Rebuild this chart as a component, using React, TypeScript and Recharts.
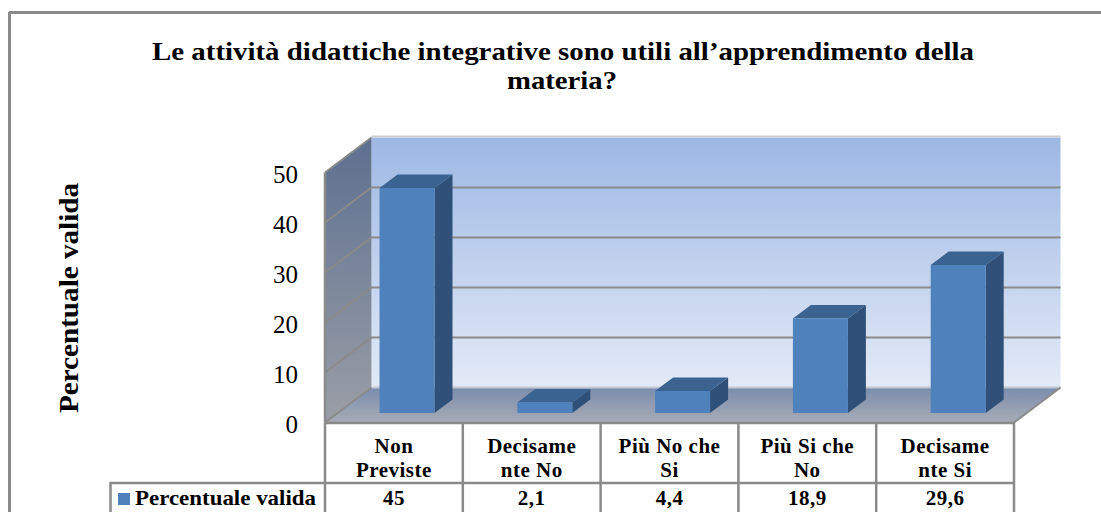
import React from 'react';
import { BarChart, Bar, XAxis, YAxis, CartesianGrid, Customized } from 'recharts';

const categories = ['Non Previste', 'Decisamente No', 'Più No che Si', 'Più Si che No', 'Decisamente Si'];
const categoryLines = [['Non', 'Previste'], ['Decisame', 'nte No'], ['Più No che', 'Si'], ['Più Si che', 'No'], ['Decisame', 'nte Si']];
const values = [45, 2.1, 4.4, 18.9, 29.6];
const yTicks = [0, 10, 20, 30, 40, 50];
const seriesName = 'Percentuale valida';
const titleLines = ['Le attività didattiche integrative sono utili all\u2019apprendimento della', 'materia?'];

const data = categories.map((name, i) => ({ name, value: values[i] }));

const W = 1101;
const H = 512;
const LEFT = 325;
const RIGHT = 1014;
const TOP = 172.5;
const BOTTOM = 422.5;
const DEPTH_X = 46.5;
const DEPTH_Y = 35;
const CELL = (RIGHT - LEFT) / categories.length;
const LINE = '#8a8a8a';
const FONT = '"Liberation Serif", serif';

const Bar3D = (props: any) => {
  const { x, y, width, height } = props;
  const left = x + 13.5;
  const right = left + width;
  const top = y - 9.5;
  const bottom = top + height;
  const dx = 18;
  const dy = 13.5;
  return (
    <g>
      <polygon points={`${right},${top} ${right + dx},${top - dy} ${right + dx},${bottom - dy} ${right},${bottom}`} fill="#2f5078" />
      <polygon points={`${left},${top} ${left + dx},${top - dy} ${right + dx},${top - dy} ${right},${top}`} fill="#3b6391" />
      <rect x={left} y={top} width={width} height={height} fill="#4f81bd" />
    </g>
  );
};

// sits under the transparent chart svg, so the grid lines stay on top of it
const Walls = () => (
  <svg width={W} height={H} style={{ position: 'absolute', left: 0, top: 0 }}>
    <defs>
      <linearGradient id="backWall" x1="0" y1="0" x2="0" y2="1">
        <stop offset="0%" stopColor="#9db8e4" />
        <stop offset="100%" stopColor="#e3eaf7" />
      </linearGradient>
      <linearGradient id="sideWall" x1="0" y1="0" x2="0" y2="1">
        <stop offset="0%" stopColor="#5d7090" />
        <stop offset="100%" stopColor="#9a9ea6" />
      </linearGradient>
      <linearGradient id="floor" x1="0" y1="0" x2="0" y2="1">
        <stop offset="0%" stopColor="#7a8dae" />
        <stop offset="100%" stopColor="#a8abb5" />
      </linearGradient>
    </defs>
    <rect x={LEFT + DEPTH_X} y={TOP - DEPTH_Y} width={RIGHT - LEFT} height={BOTTOM - TOP} fill="url(#backWall)" />
    <polygon
      points={`${LEFT},${TOP} ${LEFT + DEPTH_X},${TOP - DEPTH_Y} ${LEFT + DEPTH_X},${BOTTOM - DEPTH_Y} ${LEFT},${BOTTOM}`}
      fill="url(#sideWall)"
    />
    <polygon
      points={`${LEFT + DEPTH_X},${BOTTOM - DEPTH_Y} ${RIGHT + DEPTH_X},${BOTTOM - DEPTH_Y} ${RIGHT},${BOTTOM} ${LEFT},${BOTTOM}`}
      fill="url(#floor)"
    />
    <line x1={LEFT + DEPTH_X} x2={RIGHT + DEPTH_X} y1={TOP - DEPTH_Y - 1} y2={TOP - DEPTH_Y - 1} stroke="#cfcfcf" strokeWidth={2} />
    <line x1={LEFT + DEPTH_X} x2={RIGHT + DEPTH_X} y1={BOTTOM - DEPTH_Y} y2={BOTTOM - DEPTH_Y} stroke="#c3c8d2" strokeWidth={2} />
    <line x1={LEFT} x2={LEFT} y1={TOP} y2={BOTTOM} stroke={LINE} strokeWidth={2.5} />
    <line x1={RIGHT} x2={RIGHT + DEPTH_X} y1={BOTTOM} y2={BOTTOM - DEPTH_Y} stroke={LINE} strokeWidth={2} />
  </svg>
);

const Frame = () => (
  <g>
    <line x1={9} x2={W} y1={12.5} y2={12.5} stroke={LINE} strokeWidth={3} />
    <line x1={9.5} x2={9.5} y1={12} y2={H} stroke={LINE} strokeWidth={3} />
    <text x={563} y={59.5} textAnchor="middle" fontFamily={FONT} fontWeight="bold" fontSize={26} textLength={822} lengthAdjust="spacingAndGlyphs" fill="#000">
      {titleLines[0]}
    </text>
    <text x={562} y={88.5} textAnchor="middle" fontFamily={FONT} fontWeight="bold" fontSize={26} textLength={110} lengthAdjust="spacingAndGlyphs" fill="#000">
      {titleLines[1]}
    </text>
    <text
      x={0}
      y={0}
      transform="translate(78 298) rotate(-90)"
      textAnchor="middle"
      fontFamily={FONT}
      fontWeight="bold"
      fontSize={27}
      textLength={230}
      lengthAdjust="spacingAndGlyphs"
      fill="#000"
    >
      {seriesName}
    </text>
  </g>
);

const DataTable = () => (
  <g stroke={LINE} strokeWidth={2.5}>
    <line x1={LEFT} x2={RIGHT} y1={BOTTOM + 0.5} y2={BOTTOM + 0.5} />
    <line x1={110} x2={RIGHT} y1={483} y2={483} />
    <line x1={110.5} x2={110.5} y1={482} y2={H} />
    {categories.map((_, i) => (
      <line key={i} x1={LEFT + i * CELL} x2={LEFT + i * CELL} y1={BOTTOM} y2={H} />
    ))}
    <line x1={RIGHT} x2={RIGHT} y1={BOTTOM} y2={H} />
    <rect x={118} y={493} width={12} height={12} fill="#4f81bd" stroke="none" />
    <text x={135} y={505} fontFamily={FONT} fontWeight="bold" fontSize={21} textLength={181} lengthAdjust="spacingAndGlyphs" fill="#000" stroke="none">
      {seriesName}
    </text>
  </g>
);

// the 0 and 50 lines only show on the side wall, the back wall has its own edges there
const BackGridLine = (props: any) => {
  const { x1, x2, y1 } = props;
  const backY = y1 - DEPTH_Y;
  const isEdge = Math.abs(y1 - TOP) < 1 || Math.abs(y1 - BOTTOM) < 1;
  const end = isEdge ? '' : ` ${x2 + DEPTH_X},${backY}`;
  return (
    <polyline
      points={`${x1},${y1} ${x1 + DEPTH_X},${backY}${end}`}
      fill="none"
      stroke={LINE}
      strokeWidth={2}
    />
  );
};

const CategoryTick = (props: any) => {
  const { x, y, index } = props;
  return (
    <g fontFamily={FONT} fontWeight="bold" fontSize={21} letterSpacing={0.5} textAnchor="middle" fill="#000">
      <text x={x} y={y + 30.5}>{categoryLines[index][0]}</text>
      <text x={x} y={y + 54.5}>{categoryLines[index][1]}</text>
      <text x={x} y={y + 82.5}>{String(values[index]).replace('.', ',')}</text>
    </g>
  );
};

const ValueTick = (props: any) => {
  const { x, y, payload } = props;
  return (
    <text x={x} y={y + 10} textAnchor="end" fontFamily={FONT} fontSize={25} fill="#000">
      {payload.value}
    </text>
  );
};

export default function App() {
  return (
    <div style={{ position: 'absolute', left: 0, top: 0, width: W, height: H, overflow: 'hidden', background: '#fff' }}>
      <Walls />
      <BarChart
        width={W}
        height={H}
        data={data}
        barSize={55}
        margin={{ top: TOP, right: W - RIGHT, bottom: H - BOTTOM - 80, left: LEFT - 40 }}
        style={{ position: 'absolute', left: 0, top: 0 }}
      >
        <Customized component={Frame} />
        <CartesianGrid vertical={false} horizontal={BackGridLine as any} />
        <XAxis dataKey="name" height={80} interval={0} axisLine={false} tickLine={false} tickSize={0} tickMargin={0} tick={CategoryTick as any} />
        <YAxis width={40} domain={[0, 50]} ticks={yTicks} axisLine={false} tickLine={false} tickSize={0} tickMargin={27} tick={ValueTick as any} />
        <Bar dataKey="value" shape={Bar3D as any} isAnimationActive={false} />
        <Customized component={DataTable} />
      </BarChart>
    </div>
  );
}
